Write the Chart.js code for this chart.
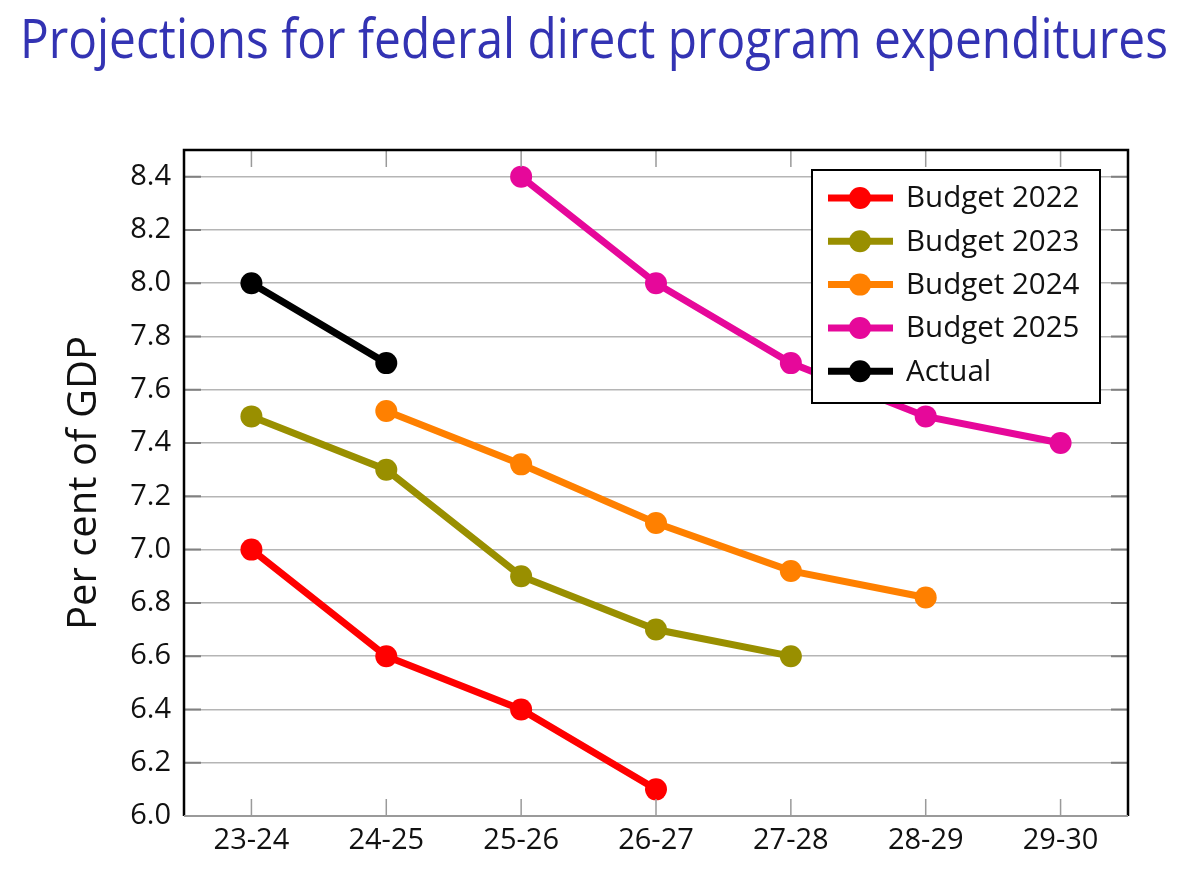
<!DOCTYPE html>
<html>
<head>
<meta charset="utf-8">
<script src="https://cdn.jsdelivr.net/npm/chart.js@4.4.1/dist/chart.umd.min.js"></script>
<style>
html,body{margin:0;padding:0;background:#fff;}
#wrap{position:relative;width:1200px;height:878px;overflow:hidden;}
#title{position:absolute;left:20px;top:2px;margin:0;font-family:"Open Sans",sans-serif;font-weight:400;font-size:54px;line-height:70px;color:#3333b3;white-space:nowrap;transform-origin:0 0;}
canvas{position:absolute;left:0;top:0;}
</style>
</head>
<body>
<div id="wrap">
<canvas id="c" width="1200" height="878"></canvas>
<h1 id="title">Projections for federal direct program expenditures</h1>
</div>
<script>
const categories = ['23-24','24-25','25-26','26-27','27-28','28-29','29-30'];
const budget2022 = [7.0, 6.6, 6.4, 6.1, null, null, null];
const budget2023 = [7.5, 7.3, 6.9, 6.7, 6.6, null, null];
const budget2024 = [null, 7.52, 7.32, 7.1, 6.92, 6.82, null];
const budget2025 = [null, null, 8.4, 8.0, 7.7, 7.5, 7.4];
const actual = [8.0, 7.7, null, null, null, null, null];
const seriesLabels = ['Budget 2022','Budget 2023','Budget 2024','Budget 2025','Actual'];
const seriesColors = ['#ff0000','#998f00','#ff8000','#e6089a','#000000'];
const yTicks = [6.0, 6.2, 6.4, 6.6, 6.8, 7.0, 7.2, 7.4, 7.6, 7.8, 8.0, 8.2, 8.4];
const yMin = 6.0, yMax = 8.5;

// fit title width
const t = document.getElementById('title');
const tw = t.getBoundingClientRect().width;
t.style.transform = 'scaleX(' + (1148 / tw) + ')';

const FONT = '"Open Sans", sans-serif';
const seriesData = [budget2022, budget2023, budget2024, budget2025, actual];

const datasets = seriesData.map((d, i) => ({
  label: seriesLabels[i],
  data: d,
  borderColor: seriesColors[i],
  backgroundColor: seriesColors[i],
  pointBackgroundColor: seriesColors[i],
  pointBorderColor: seriesColors[i],
  pointBorderWidth: 0,
  pointRadius: 11,
  pointHoverRadius: 11,
  borderWidth: 7,
  spanGaps: false,
  tension: 0,
  clip: false
}));

const framePlugin = {
  id: 'frame',
  afterDatasetsDraw(chart) {
    const {ctx, chartArea: a, scales: {x, y}} = chart;
    ctx.save();
    ctx.strokeStyle = '#9a9a9a';
    ctx.lineWidth = 1.5;
    categories.forEach((c, i) => {
      const px = x.getPixelForValue(i);
      ctx.beginPath();
      ctx.moveTo(px, a.bottom); ctx.lineTo(px, a.bottom - 17);
      ctx.moveTo(px, a.top); ctx.lineTo(px, a.top + 17);
      ctx.stroke();
    });
    ctx.strokeStyle = '#808080';
    ctx.lineWidth = 2;
    y.ticks.forEach(tk => {
      const py = y.getPixelForValue(tk.value);
      ctx.beginPath();
      ctx.moveTo(a.left, py); ctx.lineTo(a.left + 17, py);
      ctx.moveTo(a.right, py); ctx.lineTo(a.right - 17, py);
      ctx.stroke();
    });
    ctx.strokeStyle = '#000';
    ctx.lineWidth = 2.5;
    ctx.beginPath();
    ctx.moveTo(a.left, a.bottom); ctx.lineTo(a.left, a.top);
    ctx.lineTo(a.right, a.top); ctx.lineTo(a.right, a.bottom);
    ctx.stroke();
    ctx.strokeStyle = '#9a9a9a';
    ctx.lineWidth = 2;
    ctx.beginPath();
    ctx.moveTo(a.left, a.bottom); ctx.lineTo(a.right, a.bottom);
    ctx.stroke();
    ctx.restore();
  },
  afterDraw(chart) {
    const {ctx, chartArea: a} = chart;
    const bx = a.right - 316, by = a.top + 20, bw = 288, bh = 233;
    ctx.save();
    ctx.fillStyle = '#fff';
    ctx.fillRect(bx, by, bw, bh);
    ctx.strokeStyle = '#000';
    ctx.lineWidth = 2;
    ctx.strokeRect(bx, by, bw, bh);
    chart.data.datasets.forEach((ds, i) => {
      const cy = by + 28 + i * 43.3;
      ctx.strokeStyle = ds.borderColor;
      ctx.lineWidth = 7;
      ctx.lineCap = 'butt';
      ctx.beginPath();
      ctx.moveTo(bx + 16, cy); ctx.lineTo(bx + 81, cy);
      ctx.stroke();
      ctx.fillStyle = ds.borderColor;
      ctx.beginPath();
      ctx.arc(bx + 48, cy, 11, 0, Math.PI * 2);
      ctx.fill();
      ctx.fillStyle = '#111';
      ctx.font = '29.5px ' + FONT;
      ctx.textBaseline = 'middle';
      ctx.textAlign = 'left';
      ctx.fillText(ds.label, bx + 94, cy + 1);
    });
    ctx.restore();
  }
};

new Chart(document.getElementById('c'), {
  type: 'line',
  data: {labels: categories, datasets},
  options: {
    responsive: false,
    animation: false,
    devicePixelRatio: 1,
    layout: {padding: {left: 0, right: 72, top: 150, bottom: 0}},
    plugins: {
      legend: {display: false},
      title: {display: false},
      tooltip: {enabled: false}
    },
    scales: {
      x: {
        type: 'category',
        offset: true,
        grid: {display: false, drawTicks: false},
        border: {display: false},
        ticks: {color: '#111', font: {family: FONT, size: 29}, padding: 7, maxRotation: 0},
        afterFit(s) { s.height = 62; }
      },
      y: {
        min: yMin, max: yMax,
        grid: {color: '#b5b5b5', lineWidth: 1.5, drawTicks: false},
        border: {display: false},
        ticks: {color: '#111', font: {family: FONT, size: 29}, padding: 13,
          callback: v => Number(v).toFixed(1)},
        afterBuildTicks(s) {
          s.ticks = yTicks.map(v => ({value: v}));
        },
        title: {display: true, text: 'Per cent of GDP', color: '#111',
          font: {family: FONT, size: 40, lineHeight: 1}, padding: {top: 65, bottom: 0}},
        afterFit(s) { s.width = 184; }
      }
    }
  },
  plugins: [framePlugin]
});
</script>
</body>
</html>
